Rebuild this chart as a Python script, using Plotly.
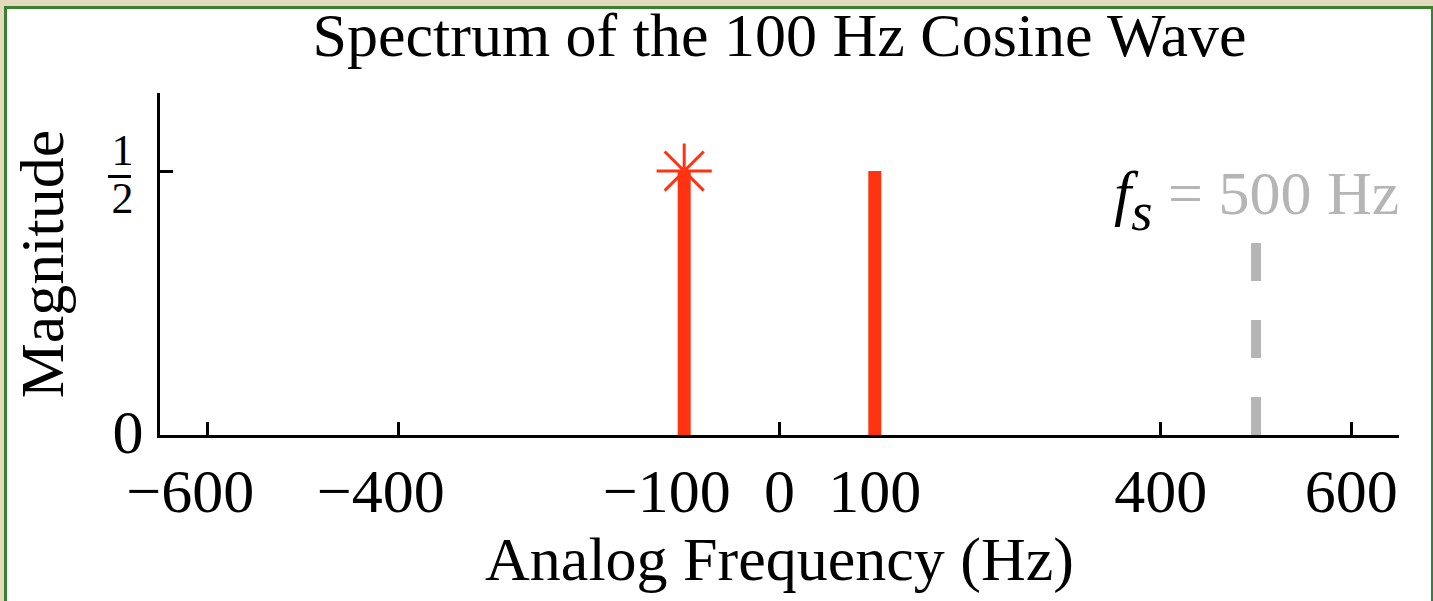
import plotly.graph_objects as go

# ---- data ----
stem_freqs = [-100, 100]          # Hz
stem_mags = [0.5, 0.5]
marker_freq = [-100]
marker_mag = [0.5]
fs = 500                          # sampling frequency (Hz)
fs_line_top = 0.364
x_tickvals = [-600, -400, -100, 0, 100, 400, 600]
x_ticklabels = ["−600", "−400", "−100", "0", "100", "400", "600"]
y_tickvals = [0, 0.5]
y_ticklabels = ["0", ("1", "2")]

RED = "#ff3311"
GRAY = "#b5b5b5"
FONT = "Liberation Serif"
FS = 62

W, H = 1433, 601
ML, MR, MT, MB = 160, 34, 93, 166
PW, PH = W - ML - MR, H - MT - MB
YMAX = 0.648

def px2paper_x(px):
    return (px - ML) / PW

def px2paper_y(py):
    return (H - MB - py) / PH

fig = go.Figure()

# stems
sx, sy = [], []
for f, m in zip(stem_freqs, stem_mags):
    sx += [f, f, None]
    sy += [0, m, None]
fig.add_trace(go.Scatter(x=sx, y=sy, mode="lines",
                         line=dict(color=RED, width=13), hoverinfo="skip"))

# asterisk marker
fig.add_trace(go.Scatter(x=marker_freq, y=marker_mag, mode="markers",
                         marker=dict(symbol="asterisk-open", size=46,
                                     line=dict(color=RED, width=3), color=RED),
                         hoverinfo="skip"))

# fs dashed line
fig.add_trace(go.Scatter(x=[fs, fs], y=[0, fs_line_top], mode="lines",
                         line=dict(color=GRAY, width=10, dash="38px,39px"),
                         hoverinfo="skip"))

INVIS = "<span style='color:rgba(0,0,0,0)'>%s</span>"

# negative labels: pad with invisible minus so digits centre on tick
xt = []
for t in x_ticklabels:
    if t.startswith("−"):
        xt.append(t + INVIS % "−")
    else:
        xt.append(t)

pad = "<span style='font-size:30px;color:rgba(0,0,0,0)'>-</span>"
num, den = y_ticklabels[1]
yt = ["<span style='font-size:%dpx'>%s</span>" % (FS, y_ticklabels[0]),
      "<span style='font-size:44px'>%s</span>%s<br><span style='font-size:44px'>%s</span>%s"
      % (num, pad, den, pad)]

fig.update_layout(
    width=W, height=H,
    margin=dict(l=ML, r=MR, t=MT, b=MB, autoexpand=False),
    paper_bgcolor="#e3d9bd",
    plot_bgcolor="rgba(0,0,0,0)",
    showlegend=False,
    font=dict(family=FONT, color="black", size=FS),
    title=dict(text="Spectrum of the 100 Hz Cosine Wave",
               x=(ML + PW / 2) / W, xanchor="center",
               y=1 - 34 / H, yanchor="middle", automargin=False,
               font=dict(size=FS, family=FONT, color="black")),
    xaxis=dict(range=[-650, 650], tickvals=x_tickvals, ticktext=xt,
               tickangle=0, automargin=False,
               ticks="inside", ticklen=13, tickwidth=3, tickcolor="black",
               showline=True, linecolor="black", linewidth=3,
               showgrid=False, zeroline=False, layer="below traces",
               tickfont=dict(size=FS, family=FONT),
               title=dict(text="Analog Frequency (Hz)", standoff=10,
                          font=dict(size=FS, family=FONT))),
    yaxis=dict(range=[0, YMAX], tickvals=y_tickvals, ticktext=yt,
               automargin=False,
               ticks="inside", ticklen=13, tickwidth=3, tickcolor="black",
               showline=True, linecolor="black", linewidth=3,
               showgrid=False, zeroline=False, layer="below traces",
               ticklabelstandoff=6, ticklabelshift=5,
               tickfont=dict(size=37, family=FONT),
               title=dict(text="Magnitude", standoff=28,
                          font=dict(size=FS, family=FONT))),
)

# frame: white panel with green border
fig.add_shape(type="rect", xref="paper", yref="paper",
              x0=px2paper_x(5.5), x1=px2paper_x(1432.5), y0=px2paper_y(640), y1=px2paper_y(7.5),
              fillcolor="white", line=dict(color="#3b8030", width=3), layer="below")

# fraction bar for the 1/2 tick label
fig.add_shape(type="line", xref="paper", yref="paper", layer="above",
              x0=px2paper_x(108), x1=px2paper_x(131), y0=px2paper_y(176.5), y1=px2paper_y(176.5),
              line=dict(color="black", width=3))

# fs annotation
fig.add_annotation(x=fs, y=(H - MB - 200) / PH * YMAX, xref="x", yref="y",
                   text="<i>f<span style='font-size:78px'><sub>s</sub></span></i>"
                        "<span style='color:%s'> = %d Hz</span>" % (GRAY, fs),
                   showarrow=False, xanchor="center", yanchor="middle",
                   font=dict(size=FS, family=FONT, color="black"))

fig.write_html("out.html")
